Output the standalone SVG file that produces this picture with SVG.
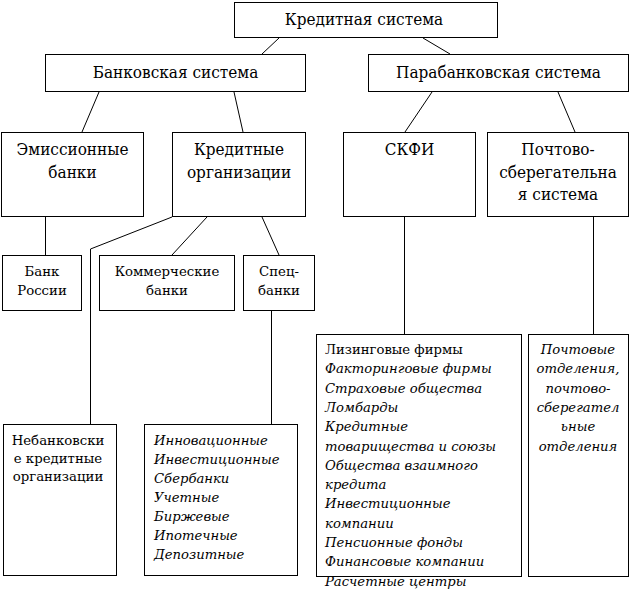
<svg xmlns="http://www.w3.org/2000/svg" width="630" height="589" viewBox="0 0 630 589">
<style>
rect{fill:#fff;stroke:#000;stroke-width:1}
line,polyline{stroke:#000;stroke-width:1;fill:none}
text{fill:#000}
.b{font-family:"DejaVu Serif Condensed","DejaVu Serif",serif;font-size:17px;text-anchor:middle}
.s{font-family:"DejaVu Serif",serif;font-size:13.3px;text-anchor:middle}
.i{font-family:"DejaVu Serif",serif;font-style:italic;font-size:13.2px}
.ic{font-family:"DejaVu Serif",serif;font-style:italic;font-size:13.2px;text-anchor:middle}
.u{font-family:"DejaVu Serif",serif;font-size:13.2px}
</style>
<rect width="630" height="589" style="fill:#fff;stroke:none"/>
<g id="connectors">
<line x1="279" y1="38" x2="262" y2="54"/>
<line x1="423" y1="38" x2="450" y2="54"/>
<line x1="99" y1="92" x2="82" y2="132"/>
<line x1="234" y1="92" x2="243" y2="132"/>
<line x1="432" y1="92" x2="405" y2="132"/>
<line x1="558" y1="92" x2="575" y2="132"/>
<line x1="45.5" y1="217" x2="45.5" y2="256"/>
<polyline points="172,217 90.5,249 90.5,424"/>
<line x1="207" y1="217" x2="172" y2="255"/>
<line x1="262" y1="217" x2="279" y2="255"/>
<line x1="271.5" y1="311" x2="271.5" y2="424"/>
<line x1="404.5" y1="217" x2="404.5" y2="334"/>
<line x1="593.5" y1="217" x2="593.5" y2="334"/>
</g>
<g id="credit-system">
<rect x="234.5" y="2.5" width="263" height="35"/>
<text class="b" x="364" y="25">Кредитная система</text>
</g>
<g id="bank-system">
<rect x="45.5" y="54.5" width="260" height="37"/>
<text class="b" x="175.5" y="78">Банковская система</text>
</g>
<g id="parabank-system">
<rect x="368.5" y="54.5" width="260" height="37"/>
<text class="b" x="498.5" y="78">Парабанковская система</text>
</g>
<g id="emission-banks">
<rect x="1.5" y="132.5" width="142" height="84"/>
<text class="b" x="72.5" y="155">Эмиссионные</text>
<text class="b" x="72.5" y="178">банки</text>
</g>
<g id="credit-orgs">
<rect x="172.5" y="132.5" width="133" height="84"/>
<text class="b" x="239" y="155">Кредитные</text>
<text class="b" x="239" y="178">организации</text>
</g>
<g id="skfi">
<rect x="343.5" y="132.5" width="132" height="84"/>
<text class="b" x="409.5" y="155">СКФИ</text>
</g>
<g id="postal-system">
<rect x="487.5" y="132.5" width="141" height="84"/>
<text class="b" x="558" y="155">Почтово-</text>
<text class="b" x="558" y="178">сберегательна</text>
<text class="b" x="558" y="200">я система</text>
</g>
<g id="bank-russia">
<rect x="2.5" y="255.5" width="79" height="55"/>
<text class="s" x="42" y="276">Банк</text>
<text class="s" x="42" y="295">России</text>
</g>
<g id="commercial-banks">
<rect x="99.5" y="255.5" width="135" height="55"/>
<text class="s" x="167" y="276">Коммерческие</text>
<text class="s" x="167" y="295">банки</text>
</g>
<g id="spec-banks">
<rect x="243.5" y="255.5" width="71" height="55"/>
<text class="s" x="279" y="276">Спец-</text>
<text class="s" x="279" y="295">банки</text>
</g>
<g id="nonbank-orgs">
<rect x="3.5" y="424.5" width="113" height="151"/>
<text class="s" x="58" y="445">Небанковски</text>
<text class="s" x="58" y="463">е кредитные</text>
<text class="s" x="58" y="481">организации</text>
</g>
<g id="spec-list">
<rect x="144.5" y="424.5" width="153" height="151"/>
<text class="i" x="154" y="445">Инновационные</text>
<text class="i" x="154" y="464">Инвестиционные</text>
<text class="i" x="154" y="483">Сбербанки</text>
<text class="i" x="154" y="502">Учетные</text>
<text class="i" x="154" y="521">Биржевые</text>
<text class="i" x="154" y="540">Ипотечные</text>
<text class="i" x="154" y="559">Депозитные</text>
</g>
<g id="skfi-list">
<rect x="316.5" y="334.5" width="205" height="242"/>
<text class="u" x="325" y="354">Лизинговые фирмы</text>
<text class="i" x="325" y="373.3">Факторинговые фирмы</text>
<text class="i" x="325" y="392.6">Страховые общества</text>
<text class="i" x="325" y="412">Ломбарды</text>
<text class="i" x="325" y="431.2">Кредитные</text>
<text class="i" x="325" y="450.5">товарищества и союзы</text>
<text class="i" x="325" y="469.8">Общества взаимного</text>
<text class="i" x="325" y="489">кредита</text>
<text class="i" x="325" y="508.3">Инвестиционные</text>
<text class="i" x="325" y="527.6">компании</text>
<text class="i" x="325" y="547">Пенсионные фонды</text>
<text class="i" x="325" y="566.3">Финансовые компании</text>
<text class="i" x="325" y="585.6">Расчетные центры</text>
</g>
<g id="postal-list">
<rect x="528.5" y="334.5" width="100" height="242"/>
<text class="ic" x="578" y="354">Почтовые</text>
<text class="ic" x="578" y="373.3">отделения,</text>
<text class="ic" x="578" y="392.6">почтово-</text>
<text class="ic" x="578" y="412">сберегател</text>
<text class="ic" x="578" y="431.2">ьные</text>
<text class="ic" x="578" y="450.5">отделения</text>
</g>
</svg>
